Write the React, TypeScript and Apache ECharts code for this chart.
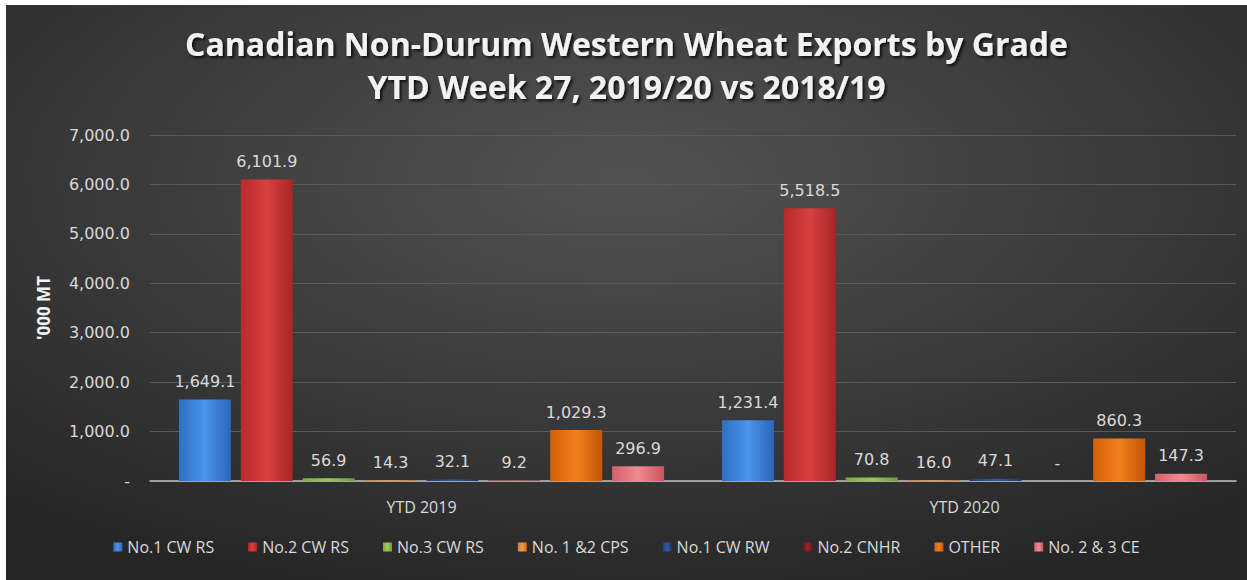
import React, { useEffect, useRef } from "react";
import * as echarts from "echarts";

const categories = ["YTD 2019", "YTD 2020"];
const seriesNames = [
  "No.1 CW RS",
  "No.2 CW RS",
  "No.3 CW RS",
  "No. 1 &2 CPS",
  "No.1 CW RW",
  "No.2 CNHR",
  "OTHER",
  "No. 2 & 3 CE",
];
const no1CwRs = [1649.1, 1231.4];
const no2CwRs = [6101.9, 5518.5];
const no3CwRs = [56.9, 70.8];
const no12Cps = [14.3, 16.0];
const no1CwRw = [32.1, 47.1];
const no2Cnhr = [9.2, 0];
const other = [1029.3, 860.3];
const no23Ce = [296.9, 147.3];
const seriesValues = [no1CwRs, no2CwRs, no3CwRs, no12Cps, no1CwRw, no2Cnhr, other, no23Ce];
const yTicks = [0, 1000, 2000, 3000, 4000, 5000, 6000, 7000];

const colors: [string, string, string][] = [
  ["#2d6fc4", "#4b95ea", "#2a66b8"],
  ["#b82a2a", "#d84040", "#a82626"],
  ["#7ea83e", "#9cc85a", "#739a38"],
  ["#d9782a", "#f09a4a", "#c96c22"],
  ["#1b3f78", "#2f5c9e", "#183a70"],
  ["#7a1515", "#9a2424", "#701212"],
  ["#d45f08", "#f07f1e", "#c45606"],
  ["#d65f68", "#ef8a92", "#c9555e"],
];

const fmt = (v: number) =>
  v === 0
    ? "-"
    : v.toLocaleString("en-US", { minimumFractionDigits: 1, maximumFractionDigits: 1 });

export default function App() {
  const ref = useRef<HTMLDivElement>(null);
  useEffect(() => {
    if (!ref.current) return;
    const chart = echarts.init(ref.current, undefined, { renderer: "svg" });
    const textColor = "#d9d9d9";
    chart.setOption({
      animation: false,
      backgroundColor: new echarts.graphic.RadialGradient(0.5, 0.3, 0.75, [
        { offset: 0, color: "#525252" },
        { offset: 1, color: "#262626" },
      ]),
      title: {
        text: "Canadian Non-Durum Western Wheat Exports by Grade\nYTD Week 27, 2019/20 vs 2018/19",
        left: "center",
        top: 12,
        textStyle: {
          color: "#f2f2f2",
          fontFamily: "Open Sans",
          fontWeight: "bold",
          fontSize: 32,
          lineHeight: 43,
          textShadowColor: "rgba(0,0,0,0.8)",
          textShadowBlur: 3,
          textShadowOffsetX: 2,
          textShadowOffsetY: 2,
        },
      },
      legend: {
        bottom: 20,
        left: "center",
        itemWidth: 9,
        itemHeight: 9,
        itemGap: 34,
        icon: "rect",
        textStyle: { color: textColor, fontSize: 16, fontFamily: "Open Sans" },
        data: seriesNames,
      },
      grid: { left: 144, right: 11, top: 130, bottom: 99, containLabel: false },
      xAxis: {
        type: "category",
        data: categories,
        axisLine: { lineStyle: { color: "#bfbfbf", width: 1.5 } },
        axisTick: { show: false },
        axisLabel: { color: textColor, fontSize: 16, fontFamily: "Open Sans", margin: 18 },
      },
      yAxis: {
        type: "value",
        min: 0,
        max: 7000,
        interval: 1000,
        name: "'000 MT",
        nameLocation: "middle",
        nameRotate: 90,
        nameGap: 98,
        nameTextStyle: { color: "#f2f2f2", fontSize: 17, fontFamily: "Open Sans", fontWeight: "bold" },
        axisLine: { show: false },
        axisTick: { show: false },
        splitLine: { lineStyle: { color: "#595959", width: 1 } },
        axisLabel: {
          color: textColor,
          fontSize: 16,
          fontFamily: "DejaVu Sans",
          margin: 20,
          formatter: (v: number) => (yTicks.includes(v) ? fmt(v) : ""),
        },
      },
      series: seriesNames.map((name, i) => ({
        name,
        type: "bar",
        data: seriesValues[i],
        barWidth: 52,
        barGap: "19%",
        barCategoryGap: "10%",
        itemStyle: {
          color: new echarts.graphic.LinearGradient(0, 0, 1, 0, [
            { offset: 0, color: colors[i][0] },
            { offset: 0.5, color: colors[i][1] },
            { offset: 1, color: colors[i][2] },
          ]),
        },
        label: {
          show: true,
          position: "top",
          distance: 10,
          color: textColor,
          fontSize: 16,
          fontFamily: "DejaVu Sans",
          formatter: (p: any) => fmt(p.value),
        },
      })),
    });
    return () => chart.dispose();
  }, []);
  return (
    <div style={{ position: "absolute", left: 0, top: 0, width: 1247, height: 580, background: "#fff" }}>
      <div ref={ref} style={{ position: "absolute", left: 6, top: 5, width: 1241, height: 575 }} />
    </div>
  );
}
